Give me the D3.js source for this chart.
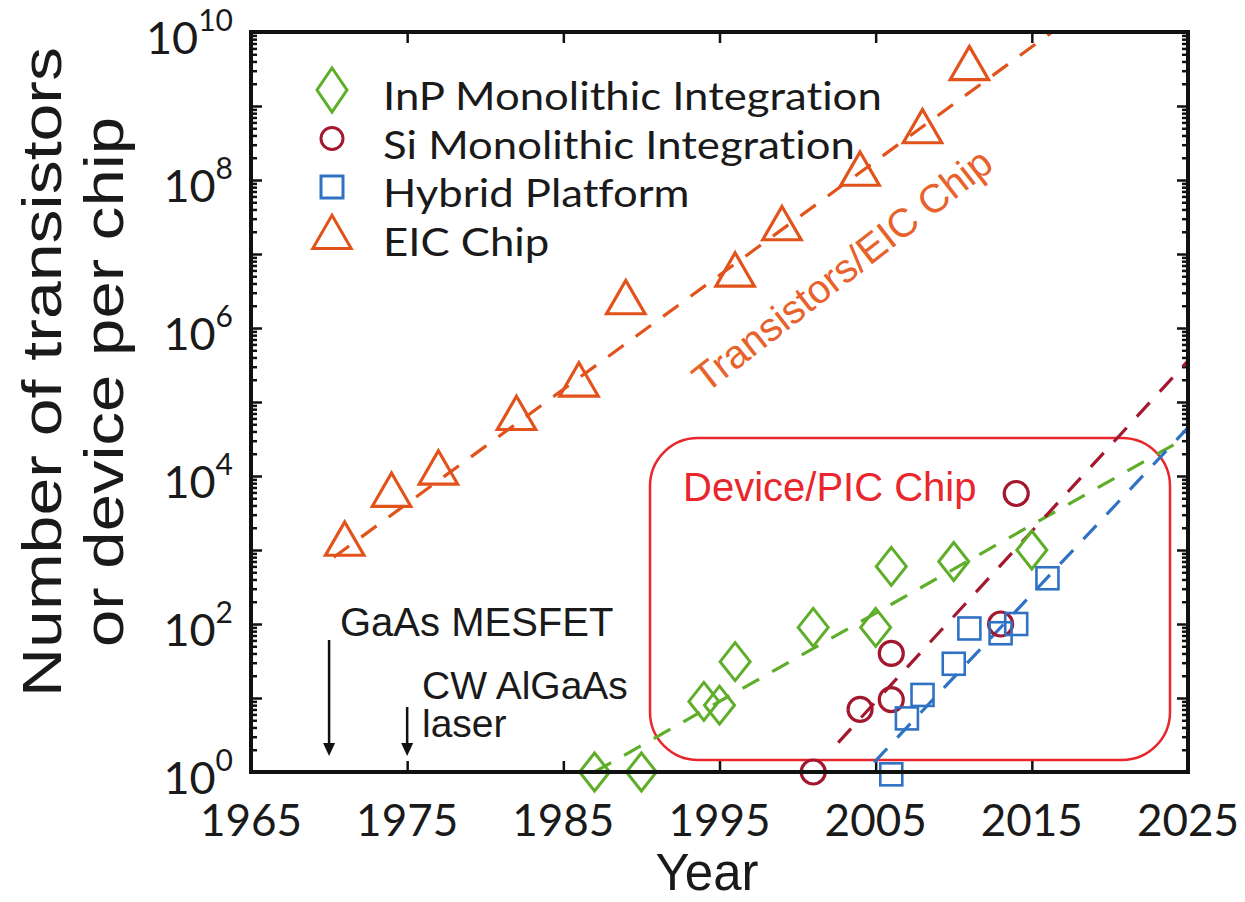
<!DOCTYPE html>
<html>
<head>
<meta charset="utf-8">
<script src="https://cdn.jsdelivr.net/npm/d3@7"></script>
<style>
  html, body { margin: 0; padding: 0; background: #fff; }
  svg { display: block; }
  text { font-family: "Liberation Sans", Arial, sans-serif; font-variant-ligatures: none; }
</style>
</head>
<body>
<svg id="chart" width="1245" height="902"></svg>
<script>
// ---- data ----
const inpYears   = [1987, 1990, 1994, 1995, 1996, 2001, 2005, 2006, 2010, 2015];
const inpValues  = [1, 1, 9, 8, 31, 90, 90, 600, 700, 1000];

const siYears    = [2001, 2004, 2006, 2006, 2013, 2014];
const siValues   = [1, 7, 9.5, 40, 100, 5800];

const hybYears   = [2006, 2007, 2008, 2010, 2011, 2013, 2014, 2016];
const hybValues  = [0.93, 5.3, 11, 29, 87, 75, 100, 415];

const eicYears   = [1971, 1974, 1977, 1982, 1986, 1989, 1996, 1999, 2004, 2008, 2011];
const eicValues  = [1200, 5500, 11000, 60000, 170000, 2.2e6, 5.2e6, 2.2e7, 1.2e8, 4.5e8, 3.2e9];

// fitted growth trends: [year, value] at each end
const inpTrend   = [[1987, 1], [2025, 3.4e4]];
const siTrend    = [[2002.6, 2.5], [2025, 3.6e5]];
const hybTrend   = [[2004.9, 1.35], [2025, 4.5e4]];
const eicTrend   = [[1970.3, 800], [2016.3, 1e10]];

const xTicks     = [1965, 1975, 1985, 1995, 2005, 2015, 2025];
const yDecades   = [0, 1, 2, 3, 4, 5, 6, 7, 8, 9, 10];
const yLabelExps = [0, 2, 4, 6, 8, 10];

const seriesNames = ["InP Monolithic Integration", "Si Monolithic Integration", "Hybrid Platform", "EIC Chip"];

// milestones marked with arrows
const milestoneYears = [1970, 1975];

// ---- layout ----
const svg = d3.select("#chart");
const L = 251, R = 1188, T = 32, B = 772;
const x = d3.scaleLinear().domain([1965, 2025]).range([L, R]);
const y = d3.scaleLog().domain([1, 1e10]).range([B, T]);

const C = {
  inp: "#5fae2a",
  si: "#a3172f",
  hyb: "#2f72c4",
  eic: "#e2531c",
  box: "#e8262c",
  eicText: "#e8622c"
};

svg.append("defs").append("clipPath").attr("id", "plotClip")
  .append("rect").attr("x", L).attr("y", T).attr("width", R - L).attr("height", B - T);

// ---- axes / ticks ----
const minors = [];
for (let e = 0; e < 10; e++) for (let m = 2; m <= 9; m++) minors.push(m * Math.pow(10, e));
const decadeVals = yDecades.map(e => Math.pow(10, e));

function styleAxis(g) {
  g.select(".domain").remove();
  g.selectAll(".tick line").attr("stroke", "#111").attr("stroke-width", 2.5);
  g.selectAll(".tick text").remove();
}

svg.append("g").attr("transform", `translate(0,${B})`)
  .call(d3.axisBottom(x).tickValues(xTicks).tickSize(-11)).call(styleAxis);
svg.append("g").attr("transform", `translate(0,${T})`)
  .call(d3.axisTop(x).tickValues(xTicks).tickSize(-11)).call(styleAxis);
svg.append("g").attr("transform", `translate(${L},0)`)
  .call(d3.axisLeft(y).tickValues(decadeVals).tickSize(-11)).call(styleAxis);
svg.append("g").attr("transform", `translate(${R},0)`)
  .call(d3.axisRight(y).tickValues(decadeVals).tickSize(-11)).call(styleAxis);
svg.append("g").attr("transform", `translate(${L},0)`)
  .call(d3.axisLeft(y).tickValues(minors).tickSize(-6)).call(styleAxis);
svg.append("g").attr("transform", `translate(${R},0)`)
  .call(d3.axisRight(y).tickValues(minors).tickSize(-6)).call(styleAxis);

// x tick labels
svg.append("g").selectAll("text").data(xTicks).join("text")
  .attr("x", d => x(d)).attr("y", 836)
  .attr("text-anchor", "middle")
  .style("font-family", "Lato, 'Open Sans', sans-serif")
  .style("font-size", "44px").attr("fill", "#1a1a1a")
  .text(d => d);

// y tick labels 10^n
const yl = svg.append("g").selectAll("text").data(yLabelExps).join("text")
  .attr("x", 233).attr("y", d => y(Math.pow(10, d)) + 22)
  .attr("text-anchor", "end")
  .style("font-family", "Lato, 'Open Sans', sans-serif")
  .attr("fill", "#1a1a1a");
yl.append("tspan").style("font-size", "45px").text("10");
yl.append("tspan").attr("dy", -23).style("font-size", "30px").text(d => d);

// axis titles
svg.append("text").attr("x", 707).attr("y", 890).attr("text-anchor", "middle")
  .style("font-size", "51px").attr("fill", "#1a1a1a").text("Year");
const yt = svg.append("text").attr("transform", "rotate(-90)")
  .attr("text-anchor", "middle").style("font-size", "55px").attr("fill", "#1a1a1a");
yt.append("tspan").attr("x", -372).attr("y", 61)
  .attr("textLength", 650).attr("lengthAdjust", "spacingAndGlyphs").text("Number of transistors");
yt.append("tspan").attr("x", -382).attr("y", 123)
  .attr("textLength", 530).attr("lengthAdjust", "spacingAndGlyphs").text("or device per chip");

// ---- Device/PIC box ----
svg.append("rect").attr("x", 650).attr("y", 438).attr("width", 520).attr("height", 322)
  .attr("rx", 48).attr("ry", 48)
  .attr("fill", "none").attr("stroke", C.box).attr("stroke-width", 2.5);
svg.append("text").attr("x", 683).attr("y", 501)
  .style("font-size", "40px").attr("fill", C.box).text("Device/PIC Chip");

// ---- trend lines ----
const line = d3.line().x(d => x(d[0])).y(d => y(d[1]));
const trends = [
  { data: eicTrend, color: C.eic },
  { data: inpTrend, color: C.inp },
  { data: siTrend, color: C.si },
  { data: hybTrend, color: C.hyb }
];
svg.append("g").attr("clip-path", "url(#plotClip)")
  .selectAll("path").data(trends).join("path")
  .attr("d", d => line(d.data))
  .attr("fill", "none").attr("stroke", d => d.color)
  .attr("stroke-width", 3.2).attr("stroke-dasharray", "19,15");

// ---- markers ----
const diamondPath = "M0,-19L15,0L0,19L-15,0Z";
const symTri = d3.symbol().type(d3.symbolTriangle).size(640);

function zip(a, b) { return a.map((v, i) => [v, b[i]]); }

const mk = svg.append("g");
mk.selectAll(".inp").data(zip(inpYears, inpValues)).join("path")
  .attr("transform", d => `translate(${x(d[0])},${y(d[1])})`)
  .attr("d", diamondPath).attr("fill", "none").attr("stroke", C.inp).attr("stroke-width", 3);
mk.selectAll(".si").data(zip(siYears, siValues)).join("circle")
  .attr("cx", d => x(d[0])).attr("cy", d => y(d[1])).attr("r", 12)
  .attr("fill", "none").attr("stroke", C.si).attr("stroke-width", 3.2);
mk.selectAll(".hyb").data(zip(hybYears, hybValues)).join("rect")
  .attr("x", d => x(d[0]) - 11).attr("y", d => y(d[1]) - 11).attr("width", 22).attr("height", 22)
  .attr("fill", "none").attr("stroke", C.hyb).attr("stroke-width", 2.6);
mk.selectAll(".eic").data(zip(eicYears, eicValues)).join("path")
  .attr("transform", d => `translate(${x(d[0])},${y(d[1])})`)
  .attr("d", symTri).attr("fill", "none").attr("stroke", C.eic).attr("stroke-width", 3.2);

// ---- rotated trend label ----
svg.append("text").attr("transform", "translate(706,394) rotate(-38)")
  .style("font-size", "40px").attr("fill", C.eicText).text("Transistors/EIC Chip");

// ---- legend ----
const legendRows = [
  { name: seriesNames[0], color: C.inp, kind: "diamond" },
  { name: seriesNames[1], color: C.si, kind: "circle" },
  { name: seriesNames[2], color: C.hyb, kind: "square" },
  { name: seriesNames[3], color: C.eic, kind: "triangle" }
];
const lg = svg.append("g").selectAll("g").data(legendRows).join("g")
  .attr("transform", (d, i) => `translate(332,${90 + i * 48.5})`);
lg.each(function (d) {
  const g = d3.select(this);
  if (d.kind === "diamond") g.append("path").attr("d", "M0,-22L15,0L0,22L-15,0Z");
  if (d.kind === "circle") g.append("circle").attr("r", 11);
  if (d.kind === "square") g.append("rect").attr("x", -11).attr("y", -11).attr("width", 22).attr("height", 22);
  if (d.kind === "triangle") g.append("path").attr("d", symTri()).attr("transform", "translate(0,2)");
  g.select("*").attr("fill", "none").attr("stroke", d.color).attr("stroke-width", 3);
});
lg.append("text").attr("x", 51).attr("y", 20)
  .style("font-family", "Lato, 'Open Sans', sans-serif")
  .style("font-size", "39px").attr("fill", "#1a1a1a").text(d => d.name)
  .each(function () {
    // widen the legend lettering a little
    const w = this.getComputedTextLength();
    d3.select(this).attr("textLength", w * 1.12).attr("lengthAdjust", "spacingAndGlyphs");
  });

// ---- milestone arrows ----
const ann = svg.append("g");
const arrowTops = [640, 707];
ann.selectAll("line").data(milestoneYears).join("line")
  .attr("x1", d => x(d)).attr("x2", d => x(d))
  .attr("y1", (d, i) => arrowTops[i]).attr("y2", 746)
  .attr("stroke", "#111").attr("stroke-width", 2.5);
ann.selectAll("path").data(milestoneYears).join("path")
  .attr("d", d => `M${x(d) - 6},743L${x(d) + 6},743L${x(d)},756Z`).attr("fill", "#111");
ann.append("text").attr("x", 340).attr("y", 636).style("font-size", "40px").attr("fill", "#1a1a1a").text("GaAs MESFET");
const laser = ann.append("text").style("font-size", "39px").attr("fill", "#1a1a1a");
laser.append("tspan").attr("x", 422).attr("y", 699).text("CW AlGaAs");
laser.append("tspan").attr("x", 422).attr("y", 737).text("laser");

// ---- frame ----
svg.append("rect").attr("x", L).attr("y", T).attr("width", R - L).attr("height", B - T)
  .attr("fill", "none").attr("stroke", "#111").attr("stroke-width", 4);
</script>
</body>
</html>
